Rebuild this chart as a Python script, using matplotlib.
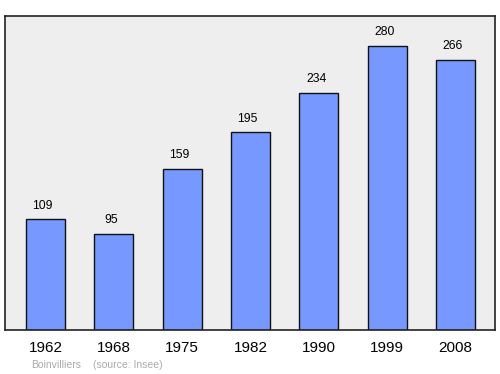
import matplotlib
matplotlib.use("Agg")
import matplotlib.pyplot as plt

plt.rcParams["font.family"] = ["Liberation Sans", "DejaVu Sans"]

years = ["1962", "1968", "1975", "1982", "1990", "1999", "2008"]
population = [109, 95, 159, 195, 234, 280, 266]

fig = plt.figure(figsize=(5, 3.74), dpi=100)
ax = fig.add_axes([5/500, 1 - 330/374, 490/500, 314/374])
ax.set_facecolor("#eeeeee")
x = list(range(len(years)))
ax.bar(x, population, width=0.57, color="#7799ff", edgecolor="#111111", linewidth=1)
for xi, v in zip(x, population):
    ax.annotate(str(v), (xi, v), xytext=(-2, 5.5), textcoords="offset points",
                ha="center", va="bottom", fontsize=8.8)
ax.set_xlim(-0.593, 6.578)
ax.set_ylim(0, 309.5)
ax.set_yticks([])
ax.set_xticks(x)
ax.set_xticklabels(years, fontsize=11)
ax.tick_params(axis="x", length=0, pad=8)
for s in ax.spines.values():
    s.set_color("#222222")
    s.set_linewidth(1.2)
fig.text(31/500, 1 - 365/374, "Boinvilliers", color="#aaaaaa", fontsize=7.5, va="center")
fig.text(93/500, 1 - 365/374, "(source: Insee)", color="#aaaaaa", fontsize=7.5, va="center")
fig.savefig("out.png", dpi=100)
